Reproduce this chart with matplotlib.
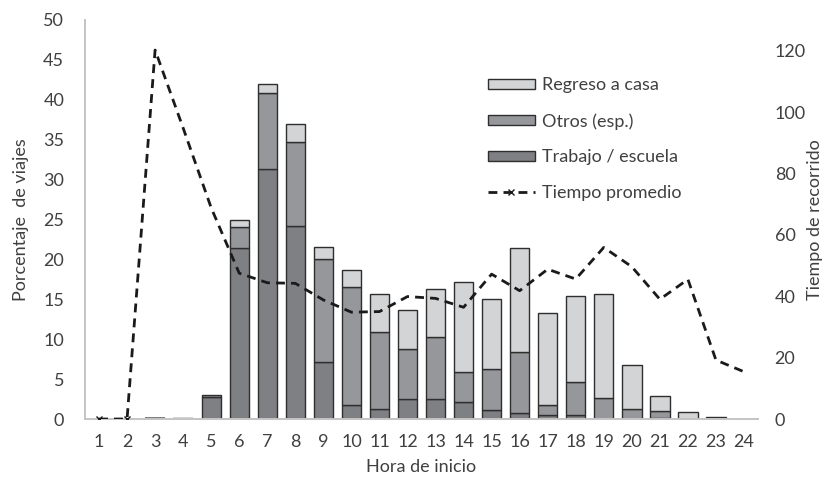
import numpy as np
from matplotlib import pyplot as plt
from matplotlib.patches import Patch
from matplotlib.lines import Line2D

# hour of trip start
horas = np.arange(1, 25)

# share of trips (%) by purpose, stacked
trabajo = [0.0, 0.0, 0.2, 0.0, 2.7, 21.4, 31.3, 24.2, 7.1, 1.7, 1.3, 2.5,
           2.55, 2.1, 1.1, 0.8, 0.5, 0.5, 0.0, 0.0, 0.1, 0.0, 0.0, 0.0]
otros = [0.0, 0.0, 0.1, 0.0, 0.3, 2.7, 9.6, 10.5, 13.0, 14.9, 9.6, 6.3,
         7.75, 3.8, 5.2, 7.6, 1.2, 4.1, 2.6, 1.2, 0.85, 0.0, 0.0, 0.0]
regreso = [0.1, 0.15, 0.0, 0.2, 0.0, 0.8, 1.1, 2.3, 1.5, 2.1, 4.8, 4.8,
           6.0, 11.3, 8.8, 13.0, 11.6, 10.8, 13.1, 5.6, 1.9, 0.9, 0.3, 0.15]

# average travel time (right axis)
tiempo = [0.0, 0.0, 120.2, 94.8, 68.8, 47.5, 44.4, 44.2, 38.8, 34.8, 35.0, 39.9,
          39.3, 36.4, 47.2, 41.8, 48.8, 45.6, 55.9, 49.6, 39.0, 45.5, 19.2, 15.4]

c_trabajo = "#7f8084"
c_otros = "#96979b"
c_regreso = "#d3d4d6"
c_edge = "#2e2e2e"
c_text = "#404040"
c_axis = "#c4c4c4"

plt.rcParams['font.family'] = ['Lato', 'DejaVu Sans']
plt.rcParams['font.size'] = 13

fig = plt.figure(figsize=(8.26, 4.78), dpi=100)
ax = fig.add_axes([0.1029, 0.1234, 0.8148, 0.8348])
ax2 = ax.twinx()


def edges(vals):
    return [c_edge if v > 0.2 else "none" for v in vals]


w = 0.69
bottom2 = np.array(trabajo)
bottom3 = bottom2 + np.array(otros)
ax.bar(horas, trabajo, w, color=c_trabajo, edgecolor=edges(trabajo), linewidth=1.0)
ax.bar(horas, otros, w, bottom=bottom2, color=c_otros, edgecolor=edges(otros), linewidth=1.0)
ax.bar(horas, regreso, w, bottom=bottom3, color=c_regreso, edgecolor=edges(regreso), linewidth=1.0)

ax2.plot(horas, tiempo, color="#1a1a1a", linestyle=(0, (3.2, 2.2)), linewidth=2.0,
         marker="x", markersize=5, markeredgewidth=1.0, markevery=[0, 1])

ax.set_xlim(0.5, 24.5)
ax.set_ylim(0, 50)
ax.set_yticks(range(0, 51, 5))
ax2.set_ylim(0, 130)
ax2.set_yticks(range(0, 121, 20))
ax.set_xticks(horas)

for a in (ax, ax2):
    for s in ("top", "right", "left", "bottom"):
        a.spines[s].set_visible(False)
for s in ("left", "bottom"):
    ax.spines[s].set_visible(True)
    ax.spines[s].set_color(c_axis)
    ax.spines[s].set_linewidth(1.4)

ax.tick_params(axis="y", length=0, pad=15, labelcolor=c_text)
ax.tick_params(axis="x", length=0, pad=11, labelcolor=c_text)
ax2.tick_params(axis="y", length=0, pad=12, labelcolor=c_text)

ax.set_xlabel("Hora de inicio", color=c_text, labelpad=6)
ax.set_ylabel("Porcentaje  de viajes", color=c_text, labelpad=10)
ax2.set_ylabel("Tiempo de recorrido", color=c_text, labelpad=1)

handles = [
    Patch(facecolor=c_regreso, edgecolor=c_edge, linewidth=1.0),
    Patch(facecolor=c_otros, edgecolor=c_edge, linewidth=1.0),
    Patch(facecolor=c_trabajo, edgecolor=c_edge, linewidth=1.0),
    Line2D([], [], color="#1a1a1a", linestyle=(0, (3.2, 2.2)), linewidth=2.0,
           marker="x", markersize=5, markeredgewidth=1.0),
]
labels = ["Regreso a casa", "Otros (esp.)", "Trabajo / escuela", "Tiempo promedio"]
leg = ax2.legend(handles, labels, loc="upper left", bbox_to_anchor=(0.588, 0.875),
                 frameon=False, handlelength=2.6, handleheight=0.5,
                 handletextpad=0.41, labelspacing=1.1, borderaxespad=0)
for t in leg.get_texts():
    t.set_color(c_text)

fig.savefig("out.png", dpi=100)
